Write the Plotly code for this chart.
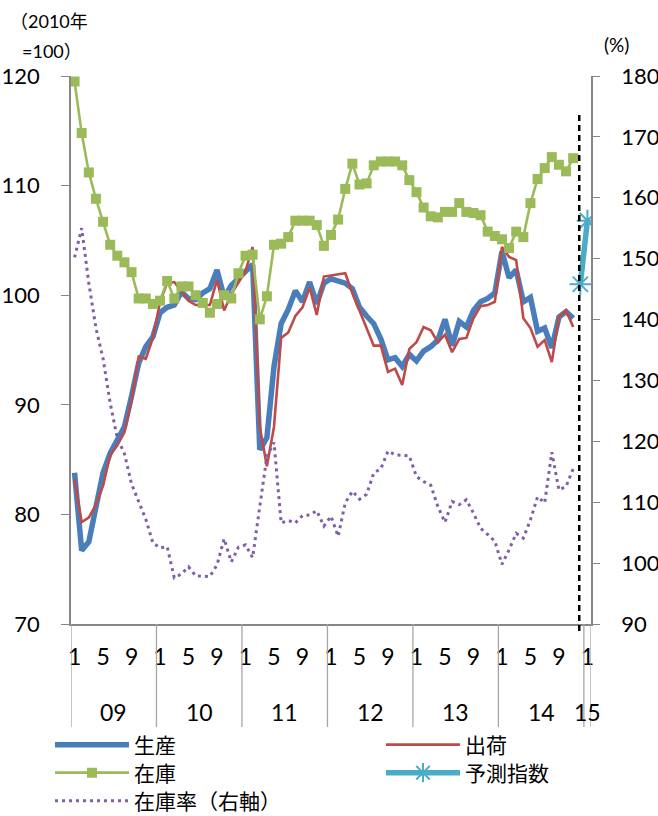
import plotly.graph_objects as go

# Monthly indices, Jan 2009 - Nov 2014 (2010 = 100)
production = [
    83.8, 76.7, 77.5, 80.5, 83.8, 85.6, 86.7, 88.0, 90.8, 93.8, 95.3, 96.2,
    98.4, 98.9, 99.1, 100.3, 99.7, 99.6, 100.2, 100.6, 102.3, 99.8, 100.9, 101.5,
    102.1, 102.8, 85.9, 87.0, 93.5, 97.4, 98.7, 100.4, 99.4, 101.2, 99.2, 101.1,
    101.5, 101.3, 101.1, 100.6, 98.9, 98.1, 97.4, 96.0, 94.1, 94.3, 93.5, 94.6,
    94.0, 94.9, 95.3, 95.9, 97.8, 95.4, 97.6, 97.1, 98.6, 99.4, 99.7, 100.2,
    104.0, 101.6, 102.3, 99.4, 99.8, 96.7, 97.0, 95.2, 98.0, 98.5, 97.9,
]
shipments = [
    83.2, 79.3, 79.7, 80.9, 82.6, 85.4, 86.3, 87.5, 90.4, 94.4, 94.2, 96.1,
    99.4, 101.1, 101.2, 100.3, 99.5, 99.1, 99.1, 99.1, 101.4, 98.6, 100.1, 101.1,
    102.2, 104.4, 88.0, 84.4, 88.0, 96.1, 96.6, 98.1, 98.9, 100.7, 98.2, 101.7,
    101.8, 101.9, 102.0, 100.2, 98.6, 96.9, 95.4, 95.4, 93.0, 93.3, 91.8, 95.1,
    95.7, 97.1, 96.8, 95.7, 96.4, 94.8, 96.0, 96.1, 97.9, 99.0, 99.1, 99.4,
    104.4, 103.5, 103.2, 97.9, 97.0, 95.3, 95.9, 93.9, 98.0, 98.6, 97.1,
]
inventory = [
    119.5, 114.8, 111.2, 108.8, 106.7, 104.6, 103.6, 103.0, 102.1, 99.7, 99.7, 99.2,
    99.5, 101.3, 99.7, 100.8, 100.8, 100.0, 99.3, 98.4, 99.2, 100.0, 99.7, 102.0,
    103.6, 103.7, 97.8, 99.9, 104.6, 104.7, 105.3, 106.8, 106.8, 106.8, 106.4, 104.5,
    105.5, 106.9, 109.7, 112.0, 110.1, 110.2, 111.85, 112.2, 112.2, 112.2, 111.85, 110.5,
    109.4, 108.0, 107.2, 107.1, 107.6, 107.6, 108.4, 107.6, 107.5, 107.3, 105.8, 105.4,
    105.1, 104.3, 105.8, 105.3, 108.4, 110.6, 111.6, 112.6, 111.9, 111.3, 112.5,
]
# Inventory ratio (%), right axis
inventory_ratio = [
    150.2, 155.0, 146.0, 138.6, 133.6, 126.3, 120.5, 118.0, 113.0, 110.0, 107.2, 103.3,
    102.5, 102.7, 97.6, 98.2, 99.4, 97.9, 97.8, 97.8, 99.7, 104.0, 100.2, 102.6,
    103.0, 100.9, 109.3, 117.5, 119.8, 106.6, 107.0, 106.6, 107.8, 107.9, 108.6, 106.1,
    107.7, 104.4, 109.9, 111.8, 110.5, 111.3, 114.8, 115.5, 118.4, 117.8, 117.7, 117.6,
    114.2, 113.4, 112.8, 109.3, 106.7, 110.1, 109.6, 110.4, 108.2, 105.7, 104.7, 103.6,
    99.8, 102.2, 104.9, 104.1, 107.1, 110.9, 109.9, 118.2, 112.0, 112.6, 115.5,
]
# Production forecast, Dec 2014 and Jan 2015
forecast = [101.0, 106.8]

years = ["09", "10", "11", "12", "13", "14", "15"]
month_labels = ["1", "5", "9"]

n_months = len(production)
months_x = list(range(n_months))
forecast_x = [n_months, n_months + 1]
total_slots = n_months + len(forecast)

FONT = "Lato, 'Noto Sans CJK JP', sans-serif"
AXIS_GRAY = "#868686"

# plot area in pixels
W, H = 658, 816
ML, MR, MT, MB = 71, 67, 76, 192
PW, PH = W - ML - MR, H - MT - MB

# legend slots: (legend id, left x, row centre y)
LEGEND_SLOTS = {
    "legend": (50, 745), "legend2": (381, 745),
    "legend3": (50, 773), "legend4": (381, 773),
    "legend5": (50, 801),
}

fig = go.Figure()

fig.add_trace(go.Scatter(
    x=months_x, y=production, name="生産", mode="lines", legend="legend",
    line=dict(color="#4A7EBB", width=5.5),
))
fig.add_trace(go.Scatter(
    x=months_x, y=shipments, name="出荷", mode="lines", legend="legend2",
    line=dict(color="#BE4B48", width=2.6),
))
fig.add_trace(go.Scatter(
    x=months_x, y=inventory, name="在庫", mode="lines+markers", legend="legend3",
    line=dict(color="#9BBB59", width=2.6),
    marker=dict(symbol="square", size=10, color="#9BBB59"),
))
fig.add_trace(go.Scatter(
    x=forecast_x, y=forecast, name="予測指数", mode="lines+markers",
    legend="legend4",
    line=dict(color="#4BACC6", width=5.5),
    marker=dict(symbol="asterisk-open", size=18,
                line=dict(color="#4BACC6", width=2)),
))
fig.add_trace(go.Scatter(
    x=months_x, y=inventory_ratio, name="在庫率（右軸）", mode="lines",
    legend="legend5",
    line=dict(color="#7F60A6", width=3, dash="3px,4px"),
    yaxis="y2",
))

# Month tick labels (1, 5, 9 of each year, plus January of the last year)
tickvals, ticktext = [], []
for k in range(len(years)):
    for j, lab in enumerate(month_labels):
        pos = 12 * k + 4 * j
        if pos < total_slots:
            tickvals.append(pos)
            ticktext.append(lab)

shapes = []
# Year dividers below the category axis
boundaries = [12 * k - 0.5 for k in range(len(years)) if 12 * k - 0.5 < total_slots]
boundaries.append(total_slots - 0.5)
for b in boundaries:
    shapes.append(dict(type="line", xref="x", yref="paper", x0=b, x1=b,
                       y0=0, y1=-103 / PH, line=dict(color="#A6A6A6", width=1.3)))
# Forecast separator
shapes.append(dict(type="line", xref="x", yref="paper",
                   x0=n_months - 0.15, x1=n_months - 0.15,
                   y0=-7 / PH, y1=(H - MB - 112) / PH,
                   line=dict(color="black", width=2.5, dash="6px,4px")))

annotations = []
for k, yr in enumerate(years):
    start = 12 * k - 0.5
    end = min(12 * k + 11.5, total_slots - 0.5)
    annotations.append(dict(text=yr, x=(start + end) / 2, xref="x",
                            y=-(712 - (H - MB)) / PH, yref="paper",
                            yanchor="middle", showarrow=False,
                            font=dict(family=FONT, size=23, color="black")))


def header(text, px, py, size):
    return dict(text=text, xref="paper", yref="paper",
                x=(px - ML) / PW, y=(H - MB - py) / PH,
                xanchor="left", yanchor="middle", showarrow=False,
                font=dict(family=FONT, size=size, color="black"))


annotations += [
    header("（2010年", 8, 21, 18),
    header("=100）", 20, 51, 18),
    header("(%)", 602, 45, 19),
]

legends = {}
for key, (lx, ly) in LEGEND_SLOTS.items():
    legends[key] = dict(
        orientation="v", xref="container", yref="container",
        x=lx / W, y=(H - ly) / H, xanchor="left", yanchor="middle",
        itemwidth=74, font=dict(family=FONT, size=21, color="black"),
        bgcolor="rgba(0,0,0,0)",
    )

fig.update_layout(
    width=W, height=H,
    margin=dict(l=ML, r=MR, t=MT, b=MB, autoexpand=False),
    paper_bgcolor="white", plot_bgcolor="white",
    font=dict(family=FONT, color="black"),
    showlegend=True,
    **legends,
    xaxis=dict(
        range=[-0.5, total_slots - 0.5], showgrid=False, zeroline=False,
        showline=True, linecolor=AXIS_GRAY, linewidth=1.5, automargin=False,
        tickmode="array", tickvals=tickvals, ticktext=ticktext,
        ticks="", ticklabelstandoff=12,
        tickfont=dict(family=FONT, size=23, color="black"),
    ),
    yaxis=dict(
        range=[70, 120], dtick=10, showgrid=False, zeroline=False,
        showline=True, linecolor=AXIS_GRAY, linewidth=1.5, automargin=False,
        ticks="outside", ticklen=8, tickcolor=AXIS_GRAY, tickwidth=1.3,
        ticklabelstandoff=17,
        tickfont=dict(family=FONT, size=22, color="black"),
    ),
    yaxis2=dict(
        range=[90, 180], dtick=10, overlaying="y", side="right",
        showgrid=False, zeroline=False, automargin=False,
        showline=True, linecolor=AXIS_GRAY, linewidth=1.5,
        ticks="outside", ticklen=7, tickcolor=AXIS_GRAY, tickwidth=1.3,
        ticklabelstandoff=17,
        tickfont=dict(family=FONT, size=22, color="black"),
    ),
    shapes=shapes,
    annotations=annotations,
)

fig.write_html("out.html")
